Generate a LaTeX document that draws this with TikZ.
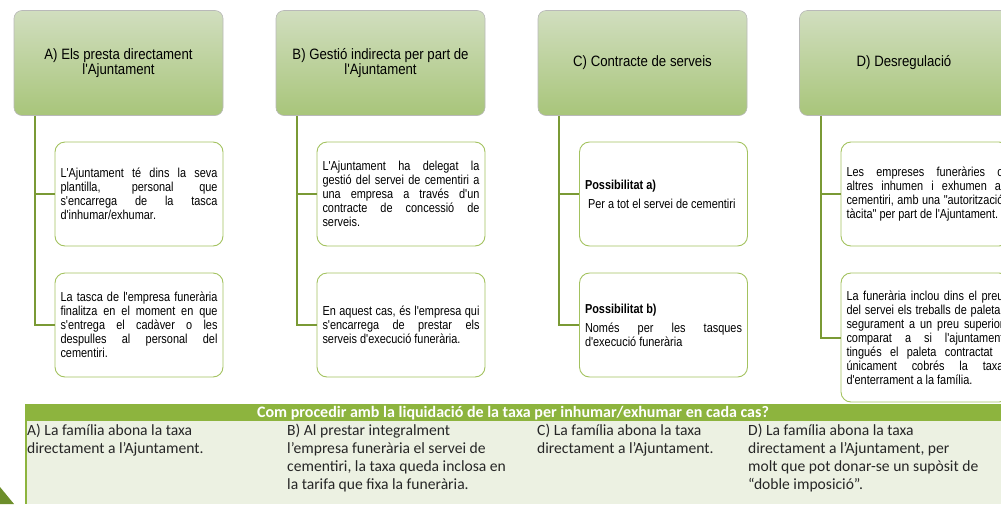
\documentclass[tikz,border=0pt]{standalone}
\usepackage{fontspec}
\newfontfamily\arn{Liberation Sans}[FakeStretch=0.84]
\newfontfamily\arh{Liberation Sans}[FakeStretch=0.88]
\newfontfamily\calfont{Carlito}
\definecolor{hdrtop}{HTML}{D1DEBF}
\definecolor{hdrbot}{HTML}{A8C57A}
\definecolor{connc}{HTML}{7A9A35}
\definecolor{boxc}{HTML}{A3C25F}
\definecolor{barc}{HTML}{8DB43E}
\definecolor{bodyc}{HTML}{ECF1E2}
\definecolor{tric}{HTML}{6D8E2B}
\hyphenpenalty=10000
\exhyphenpenalty=10000
\tolerance=10000
\hbadness=10000
\tikzset{
  hdr/.style={rectangle, rounded corners=8pt, draw=gray!55, line width=0.6pt,
    top color=hdrtop, bottom color=hdrbot, minimum width=209pt, minimum height=105pt,
    inner sep=0pt, align=center, font=\arh\fontsize{15}{15.5}\selectfont},
  child/.style={rectangle, rounded corners=10pt, draw=boxc, line width=0.9pt, fill=white,
    minimum width=168pt, minimum height=104pt, inner xsep=5.5pt, inner ysep=0pt,
    text width=157pt, align=justify, font=\arn\fontsize{13}{14}\selectfont},
  conn/.style={draw=connc, line width=2pt},
  tabtext/.style={anchor=north west, inner sep=0pt, align=left,
    font=\calfont\fontsize{15.6}{18}\selectfont, text=black!85},
}
\begin{document}
\begin{tikzpicture}[x=1pt,y=-1pt]
\useasboundingbox (0,0) rectangle (1001,504);
\clip (0,0) rectangle (1001,504);

% headers
\node[hdr] (ha) at (118.5,63) {A) Els presta directament\\l'Ajuntament};
\node[hdr] (hb) at (380.5,63) {B) Gestió indirecta per part de\\l'Ajuntament};
\node[hdr] (hc) at (642.5,63) {C) Contracte de serveis};
\node[hdr] (hd) at (904,63) {D) Desregulació};

% children
\node[child] (a1) at (139,194) {L'Ajuntament té dins la seva\linebreak plantilla, personal que\linebreak s'encarrega de la tasca\linebreak d'inhumar/exhumar.};
\node[child] (a2) at (139,325) {La tasca de l'empresa funerària\linebreak finalitza en el moment en que\linebreak s'entrega el cadàver o les\linebreak despulles al personal del\linebreak cementiri.};
\node[child] (b1) at (401,194) {L'Ajuntament ha delegat la\linebreak gestió del servei de cementiri a\linebreak una empresa a través d'un\linebreak contracte de concessió de\linebreak serveis.};
\node[child] (b2) at (401,325) {En aquest cas, és l'empresa qui\linebreak s'encarrega de prestar els\linebreak serveis d'execució funerària.};
\node[child] (c1) at (663.5,194) {\textbf{Possibilitat a)}\\[5pt]\hspace*{3pt}Per a tot el servei de cementiri};
\node[child] (c2) at (663.5,325) {\textbf{Possibilitat b)}\\[5pt]Només per les tasques\linebreak d'execució funerària};
\node[child] (d1) at (925,194) {Les empreses funeràries o\linebreak altres inhumen i exhumen al\linebreak cementiri, amb una "autorització\linebreak tàcita" per part de l'Ajuntament.};
\node[child, minimum height=129pt] (d2) at (925,337.5) {La funerària inclou dins el preu\linebreak del servei els treballs de paleta,\linebreak segurament a un preu superior\linebreak comparat a si l'ajuntament\linebreak tingués el paleta contractat i\linebreak únicament cobrés la taxa\linebreak d'enterrament a la família.};

% connectors
\foreach \h/\p/\q in {ha/a1/a2, hb/b1/b2, hc/c1/c2, hd/d1/d2}{
  \draw[conn] ([xshift=21.5pt]\h.south west) |- (\p.west);
  \draw[conn] ([xshift=21.5pt]\h.south west) |- (\q.west);
}

% bottom table
\fill[bodyc] (25,421) rectangle (1001,504);
\fill[barc] (25,404) rectangle (1001,421);
\draw[barc, line width=1.5pt] (25.75,404) -- (25.75,504);
\node[inner sep=0pt, text=white, font=\calfont\bfseries\fontsize{16}{17}\selectfont] (title) at (513,413.5) {Com procedir amb la liquidació de la taxa per inhumar/exhumar en cada cas?};
\node[tabtext] (ta) at (27,424) {A) La família abona la taxa\\directament a l’Ajuntament.};
\node[tabtext] (tb) at (287,424) {B) Al prestar integralment\\l’empresa funerària el servei de\\cementiri, la taxa queda inclosa en\\la tarifa que fixa la funerària.};
\node[tabtext] (tc) at (537,424) {C) La família abona la taxa\\directament a l’Ajuntament.};
\node[tabtext] (td) at (748,424) {D) La família abona la taxa\\directament a l’Ajuntament, per\\molt que pot donar-se un supòsit de\\“doble imposició”.};

\fill[tric] (0,487) -- (14,504) -- (0,504) -- cycle;
\end{tikzpicture}
\end{document}
